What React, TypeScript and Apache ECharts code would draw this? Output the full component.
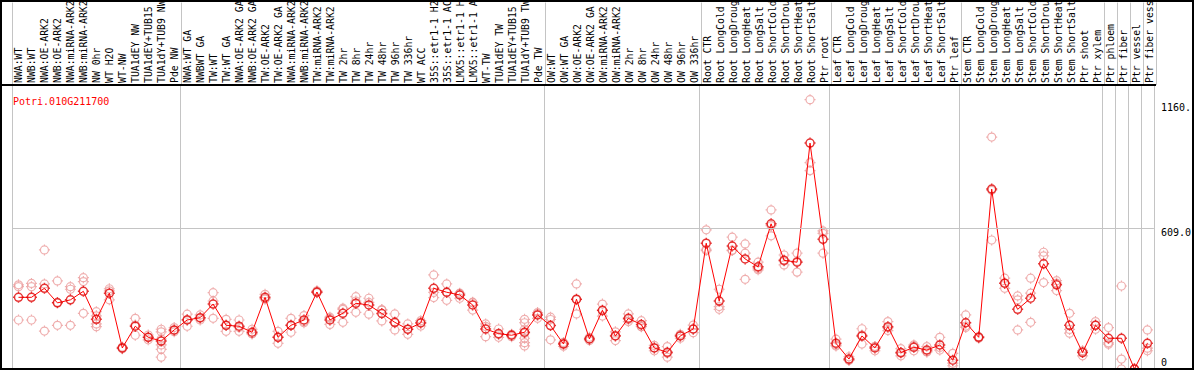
import React, { useEffect, useRef } from "react";
import * as echarts from "echarts";

const geneId = "Potri.010G211700";

const categories = [
  "NWA:WT", "NWB:WT", "NWA:OE-ARK2", "NWB:OE-ARK2", "NWA:miRNA-ARK2", "NWB:miRNA-ARK2", "NW 0hr", "WT H2O", "WT-NW", "TUA1dEY NW", "TUA1dEY+TUB15", "TUA1dY+TUB9 NW", "Pde NW",
  "NWA:WT GA", "NWBWT GA", "TW:WT", "TW:WT GA", "NWA:OE-ARK2 GA", "NWB:OE-ARK2 GA", "TW:OE-ARK2", "TW:OE-ARK2 GA", "NWA:miRNA-ARK2", "NWB:miRNA-ARK2", "TW:miRNA-ARK2", "TW:miRNA-ARK2", "TW 2hr", "TW 8hr", "TW 24hr", "TW 48hr", "TW 96hr", "TW 336hr", "WT ACC", "35S::etr1-1 H2", "35S::etr1-1 AC", "LMX5::etr1-1 H", "LMX5::etr1-1 A", "WT-TW", "TUA1dEY TW", "TUA1dEY+TUB15", "TUA1dY+TUB9 TW", "Pde TW",
  "OW:WT", "OW:WT GA", "OW:OE-ARK2", "OW:OE-ARK2 GA", "OW:miRNA-ARK2", "OW:miRNA-ARK2", "OW 2hr", "OW 8hr", "OW 24hr", "OW 48hr", "OW 96hr", "OW 336hr",
  "Root CTR", "Root LongCold", "Root LongDroug", "Root LongHeat", "Root LongSalt", "Root ShortCold", "Root ShortDrou", "Root ShortHeat", "Root ShortSalt", "Ptr root",
  "Leaf CTR", "Leaf LongCold", "Leaf LongDroug", "Leaf LongHeat", "Leaf LongSalt", "Leaf ShortCold", "Leaf ShortDrou", "Leaf ShortHeat", "Leaf ShortSalt", "Ptr leaf",
  "Stem CTR", "Stem LongCold", "Stem LongDroug", "Stem LongHeat", "Stem LongSalt", "Stem ShortCold", "Stem ShortDrou", "Stem ShortHeat", "Stem ShortSalt", "Ptr shoot", "Ptr xylem",
  "Ptr phloem", "Ptr fiber", "Ptr vessel", "Ptr fiber vess",
];

// index of the first category of each separated block
const groupStarts = [0, 13, 41, 53, 63, 73, 84, 85, 86, 87];

const meanValues = [
  310, 310, 349, 286, 299, 336, 215, 328, 91, 185, 137, 121, 169,
  212, 222, 281, 189, 185, 159, 310, 137, 189, 212, 333, 212, 241, 284, 277, 240, 202, 172, 199, 349, 332, 320, 277, 173, 153, 146, 159, 234,
  188, 108, 302, 130, 254, 143, 219, 192, 91, 72, 143, 173,
  544, 294, 532, 476, 442, 628, 470, 462, 977, 561,
  111, 43, 143, 91, 183, 71, 94, 82, 104, 38,
  200, 137, 778, 371, 258, 306, 455, 364, 189, 71, 189,
  133, 133, 0, 111,
];

const replicateValues = [
  [364, 356, 212], [370, 356, 212], [515, 368, 164], [381, 189, 288], [356, 345, 189], [395, 378, 241], [248, 195, 183, 230], [338, 299, 347], [95, 88, 90], [219, 146, 190], [147, 126, 137], [172, 161, 130, 104, 85, 51], [179, 161, 167],
  [237, 185, 214], [234, 212, 220], [330, 219, 294], [215, 163, 189], [212, 163, 180], [172, 153, 152], [323, 303, 304], [163, 111, 137], [219, 159, 189], [205, 200, 231], [338, 330, 331], [224, 193, 219], [263, 202, 258], [313, 245, 294], [306, 237, 288], [255, 208, 257], [238, 169, 199], [195, 150, 171], [186, 209, 202], [407, 309, 331], [368, 297, 331], [328, 306, 326], [287, 255, 289], [195, 140, 184], [173, 137, 149], [150, 140, 148], [215, 200, 172, 155, 133, 114, 100], [244, 219, 239],
  [224, 126, 214], [115, 98, 111], [368, 238, 300], [137, 123, 130], [281, 229, 252], [161, 123, 145], [238, 205, 214], [209, 183, 184], [102, 79, 92], [97, 51, 68], [150, 133, 146], [190, 157, 172],
  [602, 518, 512], [345, 270, 258], [570, 512, 514], [541, 501, 388], [462, 429, 435], [688, 576, 620], [493, 450, 467], [501, 419, 466], [1165, 893, 858], [597, 587, 501],
  [129, 104, 100], [53, 38, 38], [174, 108, 147], [97, 79, 97], [205, 166, 178], [88, 57, 68], [104, 79, 99], [97, 75, 74], [137, 82, 93], [68, 25, 14],
  [234, 180, 186], [140, 133, 138], [1003, 558, 773], [393, 349, 371], [316, 299, 169], [393, 328, 202], [505, 489, 374], [382, 339, 371], [241, 155, 171], [79, 57, 77], [205, 172, 190],
  [179, 107, 113], [359, 43, 0], [0, 0, 0], [169, 90, 79],
];

const yTickValues = [0, 609, 1160];
const yTickLabels = ["0", "609.0", "1160."];
const yMax = 1224;
const midLineValue = 609;

const MONO = "'DejaVu Sans Mono', monospace";
const markerPath =
  "path://M9.5 5.5A4 4 0 1 1 1.5 5.5A4 4 0 1 1 9.5 5.5ZM5.5 0L5.5 1.5M5.5 9.5L5.5 11M0 5.5L1.5 5.5M9.5 5.5L11 5.5";

export default function App() {
  const ref = useRef<HTMLDivElement>(null);

  useEffect(() => {
    if (!ref.current) return;
    const chart = echarts.init(ref.current, null, { renderer: "svg" });

    const repData: number[][] = [];
    replicateValues.forEach((reps, i) => reps.forEach((v) => repData.push([i, v])));
    const meanData = meanValues.map((v, i) => [i, v]);

    const splitInterval = (index: number) => groupStarts.indexOf(index) >= 0;
    const gridLeft = 12;
    const gridRight = 38;

    chart.setOption({
      animation: false,
      backgroundColor: "#fff",
      title: {
        text: geneId,
        left: 8,
        top: 91,
        textStyle: { color: "#ff0000", fontSize: 10, fontFamily: MONO, fontWeight: "normal" },
      },
      grid: [
        { left: gridLeft, right: gridRight, top: 0, height: 85 },
        { left: gridLeft, right: gridRight, top: 86, bottom: 1 },
      ],
      xAxis: [
        {
          type: "category",
          gridIndex: 0,
          data: categories,
          position: "bottom",
          axisLine: { show: false },
          axisTick: { show: false },
          axisLabel: {
            inside: true,
            rotate: 90,
            interval: 0,
            margin: 2,
            fontSize: 9.8,
            fontFamily: MONO,
            color: "#000",
            padding: [0, 0, 5, 0],
          },
          splitLine: { show: true, interval: splitInterval, lineStyle: { color: "#c4c4c4", width: 1 } },
        },
        {
          type: "category",
          gridIndex: 1,
          data: categories,
          position: "top",
          axisLine: { show: false },
          axisTick: { show: false },
          axisLabel: { show: false },
          splitLine: { show: true, interval: splitInterval, lineStyle: { color: "#c4c4c4", width: 1 } },
        },
      ],
      yAxis: [
        { type: "value", gridIndex: 0, show: false, min: 0, max: 1 },
        {
          type: "value",
          gridIndex: 1,
          position: "right",
          min: 0,
          max: yMax,
          axisLine: { show: false },
          axisTick: { show: false },
          splitLine: { show: false },
          axisLabel: {
            customValues: yTickValues,
            margin: 7,
            align: "left",
            color: "#000",
            fontSize: 10,
            fontFamily: MONO,
            formatter: (v: number) => {
              const idx = yTickValues.indexOf(v);
              const t = idx >= 0 ? yTickLabels[idx] : String(v);
              return v === 0 ? `{z|${t}}` : v === 609 ? `{n|${t}}` : `{m|${t}}`;
            },
            rich: {
              n: { fontSize: 10, fontFamily: MONO, color: "#000", padding: [9, 0, 0, 0] },
              m: { fontSize: 10, fontFamily: MONO, color: "#000", padding: [13, 0, 0, 0] },
              z: { fontSize: 10, fontFamily: MONO, color: "#000", padding: [0, 0, 14, 0] },
            },
          },
        },
      ],
      graphic: [
        {
          type: "line",
          shape: { x1: 0, y1: 85, x2: 1156, y2: 85 },
          style: { stroke: "#000", lineWidth: 2 },
          z: 100,
        },
        {
          type: "rect",
          shape: { x: 1, y: 1, width: 1192, height: 368 },
          style: { fill: "none", stroke: "#000", lineWidth: 2 },
          z: 100,
        },
      ],
      series: [
        {
          type: "scatter",
          xAxisIndex: 1,
          yAxisIndex: 1,
          data: repData,
          symbol: markerPath,
          symbolSize: 11,
          itemStyle: { color: "rgba(0,0,0,0)", borderColor: "#eb9a9a", borderWidth: 1.2 },
          silent: true,
          z: 2,
        },
        {
          type: "line",
          xAxisIndex: 1,
          yAxisIndex: 1,
          data: meanValues,
          symbol: "none",
          lineStyle: { color: "#ff0000", width: 1 },
          silent: true,
          z: 3,
          markLine: {
            silent: true,
            symbol: ["none", "none"],
            label: { show: false },
            lineStyle: { color: "#c4c4c4", type: "solid", width: 1 },
            data: [{ yAxis: midLineValue }],
          },
        },
        {
          type: "scatter",
          xAxisIndex: 1,
          yAxisIndex: 1,
          data: meanData,
          symbol: markerPath,
          symbolSize: 11,
          itemStyle: { color: "rgba(0,0,0,0)", borderColor: "#e00000", borderWidth: 1.5 },
          silent: true,
          z: 4,
        },
      ],
    });

    return () => chart.dispose();
  }, []);

  return (
    <div
      ref={ref}
      style={{ position: "absolute", left: 0, top: 0, width: 1194, height: 370 }}
    />
  );
}
